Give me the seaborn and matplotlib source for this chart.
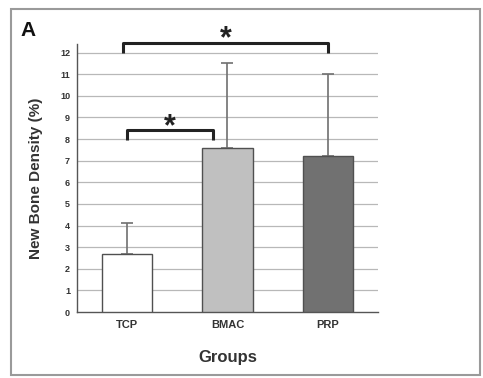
import matplotlib
matplotlib.use("Agg")
import matplotlib.pyplot as plt
import seaborn as sns
import numpy as np
import pandas as pd
from matplotlib.patches import Rectangle

groups = ["TCP", "BMAC", "PRP"]
means = [2.7, 7.6, 7.2]
sd_upper = [1.4, 3.9, 3.8]
colors = ["#ffffff", "#c0c0c0", "#717171"]
yticks = list(range(0, 13))

sns.set_style("white")
plt.rcParams['font.family'] = ['Liberation Sans', 'DejaVu Sans']

fig = plt.figure(figsize=(4.83, 3.78), dpi=100)
ax = fig.add_axes([77/483, (378-312)/378, (378-77)/483, (312-44)/378])

df = pd.DataFrame({"Groups": groups, "Density": means})
sns.barplot(data=df, x="Groups", y="Density", hue="Groups", palette=colors,
            order=groups, width=0.5, edgecolor="#505050", linewidth=1.0,
            errorbar=None, legend=False, ax=ax, zorder=3)

x = np.arange(len(groups))
ax.errorbar(x, means, yerr=[np.zeros(len(groups)), sd_upper], fmt="none",
            ecolor="#707070", elinewidth=1.2, capsize=4, capthick=1.2, zorder=2)

ax.set_ylim(0, 12.4)
ax.set_xlim(-0.5, 2.5)
ax.set_yticks(yticks)
ax.set_yticklabels([str(t) for t in yticks], fontsize=6.5, fontweight="bold", color="#333333")
ax.tick_params(axis="y", direction="out", length=3, width=0.8, color="#555555", pad=2)
ax.tick_params(axis="x", length=0, pad=6)
ax.set_xticks(x)
ax.set_xticklabels(groups, fontsize=8, fontweight="bold", color="#333333")
for t in yticks[1:]:
    ax.axhline(t, color="#b8b8b8", linewidth=0.9, zorder=1)

for s in ["top", "right"]:
    ax.spines[s].set_visible(False)
ax.spines["left"].set_color("#555555")
ax.spines["bottom"].set_color("#555555")
ax.spines["left"].set_linewidth(1.0)
ax.spines["bottom"].set_linewidth(1.0)

ax.set_ylabel("New Bone Density (%)", fontsize=11, fontweight="bold", color="#333333", labelpad=12)
ax.set_xlabel("Groups", fontsize=12, fontweight="bold", color="#333333", labelpad=14)

# significance brackets
def bracket(x0, x1, ylow, yhigh, ystar):
    ax.plot([x0, x0, x1, x1], [ylow, yhigh, yhigh, ylow], color="#222222",
            linewidth=2.2, clip_on=False, zorder=5, solid_capstyle="butt")
    ax.text((x0 + x1) / 2, ystar, "*", ha="center", va="center", fontsize=22,
            fontweight="bold", color="#222222", clip_on=False)

bracket(0.0, 0.86, 7.96, 8.4, 8.55)
bracket(-0.04, 2.0, 12.0, 12.45, 12.62)

fig.text(20/483, 1 - 31/378, "A", fontsize=15, fontweight="bold", va="center", ha="left", color="#111111")

fig.patches.append(Rectangle((11/483, 3/378), 469/483, 366/378, transform=fig.transFigure,
                             fill=False, edgecolor="#9a9a9a", linewidth=1.5))

fig.savefig("out.png", dpi=100)
